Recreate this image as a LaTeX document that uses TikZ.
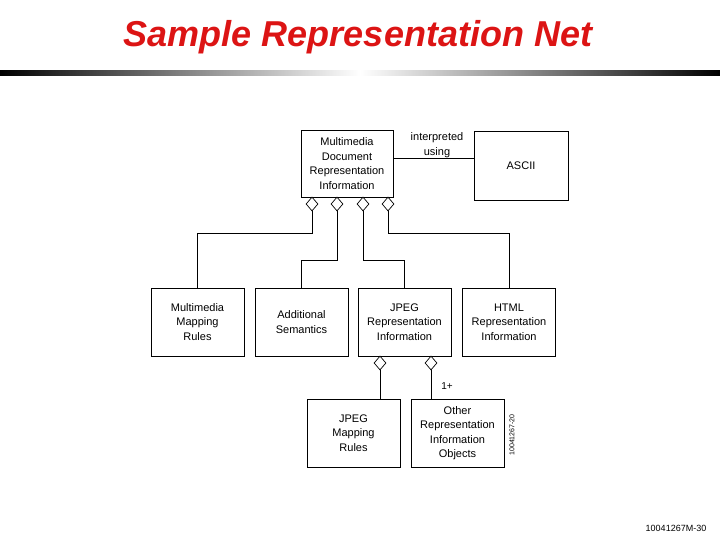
\documentclass[tikz,border=0pt]{standalone}
\usepackage{fontspec}
\setmainfont{Liberation Sans}
\usetikzlibrary{shapes.geometric}
\definecolor{titlered}{RGB}{220,20,20}
\begin{document}
\begin{tikzpicture}[x=1pt,y=-1pt,
  box/.style={draw,line width=0.8pt,minimum width=93pt,minimum height=68pt,align=center,font=\fontsize{11}{14.5}\selectfont,inner sep=1pt},
  dia/.style={draw,diamond,fill=white,line width=0.7pt,minimum width=12pt,minimum height=14pt,inner sep=0pt},
  ln/.style={line width=0.8pt}]
\useasboundingbox (0,0) rectangle (720,540);
\node[font=\fontsize{36}{40}\selectfont\bfseries\itshape,text=titlered] (title) at (358,37) {Sample Representation Net};
\shade[left color=black,right color=white] (0,71) rectangle (360,76);
\shade[left color=white,right color=black] (360,71) rectangle (720,76);
\node[box,minimum width=92pt,minimum height=67pt] (mdri) at (347,163.5) {Multimedia\\Document\\Representation\\Information};
\node[box,minimum width=94pt,minimum height=69pt] (ascii) at (521,165.5) {ASCII};
\draw[ln] (mdri.east |- 0,158) coordinate (m1) -- (ascii.west |- m1);
\node[font=\fontsize{11}{14.5}\selectfont,align=center] (lab) at (437,145) {interpreted\\using};
\node[box] (mmr) at (197.5,322) {Multimedia\\Mapping\\Rules};
\node[box] (as) at (301.5,322) {Additional\\Semantics};
\node[box] (jpeg) at (404.5,322) {JPEG\\Representation\\Information};
\node[box] (html) at (509,322) {HTML\\Representation\\Information};
\node[box] (jmr) at (353.5,433) {JPEG\\Mapping\\Rules};
\node[box] (oth) at (457.5,433) {Other\\Representation\\Information\\Objects};
\node[dia] (d1) at (312,204) {};
\node[dia] (d2) at (337,204) {};
\node[dia] (d3) at (363,204) {};
\node[dia] (d4) at (388,204) {};
\node[dia] (d5) at (380,363) {};
\node[dia] (d6) at (431,363) {};
\draw[ln] (d1.south) |- (mmr.north |- 0,233) -- (mmr.north);
\draw[ln] (d2.south) |- (as.north |- 0,260) -- (as.north);
\draw[ln] (d3.south) |- (jpeg.north |- 0,260) -- (jpeg.north);
\draw[ln] (d4.south) |- (html.north |- 0,233) -- (html.north);
\draw[ln] (d5.south) -- (d5.south |- jmr.north);
\draw[ln] (d6.south) -- (d6.south |- oth.north);
\node[font=\fontsize{10}{12}\selectfont] (one) at (447,386) {1+};
\node[font=\fontsize{7}{8}\selectfont,rotate=90] (code) at (512,435) {10041267-20};
\node[font=\fontsize{9}{10}\selectfont] (foot) at (676,528) {10041267M-30};
\end{tikzpicture}
\end{document}
